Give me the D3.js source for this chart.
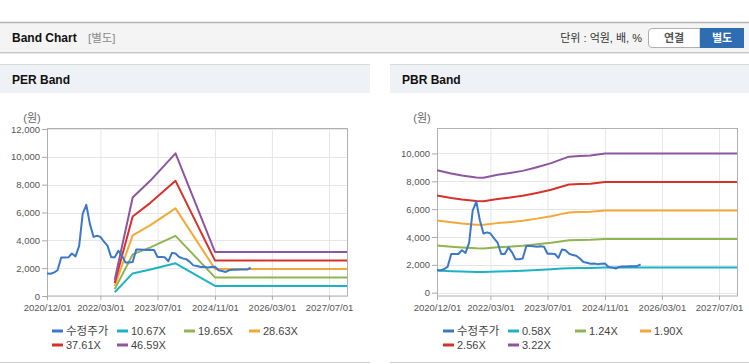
<!DOCTYPE html>
<html>
<head>
<meta charset="utf-8">
<script src="https://cdn.jsdelivr.net/npm/d3@7"></script>
<style>
  body { margin: 0; background: #fff; }
  svg { display: block; font-family: "Liberation Sans", Arial, "Noto Sans CJK KR", sans-serif; }
</style>
</head>
<body>
<script>
// monthly dates, price from 2020/12
var priceStart = "2020-12-01";
var price = [1620, 1600, 1700, 1850, 2770, 2770, 2780, 3050, 2850, 3600,
             5900, 6550, 5200, 4250, 4330, 4250, 3900, 3600, 2780, 2780,
             3250, 2900, 2400, 2400, 2450, 3350, 3350, 3330, 3300, 3330,
             3300, 2800, 2800, 2780, 2500, 3100, 3050, 2800, 2700, 2650,
             2450, 2200, 2150, 2080, 2100, 2050, 2080, 2100, 1850, 1800,
             1730, 1850, 1880, 1880, 1900, 1900, 1900, 2030];

// EPS / BPS at the band vertices
var epsDates = ["2022-07-01", "2022-12-01", "2023-05-01", "2023-12-01", "2024-11-01", "2027-12-01"];
var eps = [25, 152, 178, 220, 68, 68];
var perMult = [10.67, 19.65, 28.63, 37.61, 46.59];

var bpsDates = ["2020-12-01", "2021-04-01", "2021-07-01", "2021-11-01", "2022-01-01", "2022-05-01",
                "2022-08-01", "2022-12-01", "2023-04-01", "2023-08-01", "2023-11-01", "2024-01-01",
                "2024-04-01", "2024-07-01", "2024-11-01", "2027-12-01"];
var bps = [2730, 2660, 2615, 2572, 2565, 2630, 2665, 2718, 2800, 2890, 2980, 3035, 3048, 3060, 3106, 3106];
var pbrMult = [0.58, 1.24, 1.90, 2.56, 3.22];

var xTicks = ["2020-12-01", "2022-03-01", "2023-07-01", "2024-11-01", "2026-03-01", "2027-07-01"];
var perTicks = [0, 2000, 4000, 6000, 8000, 10000, 12000];
var pbrTicks = [0, 2000, 4000, 6000, 8000, 10000];

var colors = ["#3b78c7", "#1eb3c3", "#8fb552", "#f4a83a", "#d6322b", "#8e55a0"];

var parse = d3.timeParse("%Y-%m-%d");
var fmtTick = d3.timeFormat("%Y/%m/%d");

var svg = d3.select("body").append("svg")
    .attr("width", 749)
    .attr("height", 364);

// top header bar
svg.append("rect").attr("x", 0).attr("y", 22).attr("width", 749).attr("height", 30)
    .attr("fill", "#f4f4f4");
svg.append("line").attr("x1", 0).attr("x2", 749).attr("y1", 22.5).attr("y2", 22.5)
    .attr("stroke", "#b4b4b4").attr("stroke-width", 1.5);
svg.append("line").attr("x1", 0).attr("x2", 749).attr("y1", 52.5).attr("y2", 52.5)
    .attr("stroke", "#c8c8c8");
svg.append("line").attr("x1", 0).attr("x2", 749).attr("y1", 53.5).attr("y2", 53.5)
    .attr("stroke", "#e6e6e6");
svg.append("text").attr("x", 12).attr("y", 42).text("Band Chart")
    .attr("font-size", 12).attr("font-weight", "bold").attr("fill", "#111");
svg.append("text").attr("x", 88).attr("y", 42).text("[별도]")
    .attr("font-size", 11.5).attr("fill", "#8a8a8a");
svg.append("text").attr("x", 642).attr("y", 42).attr("text-anchor", "end").text("단위 : 억원, 배, %")
    .attr("font-size", 11).attr("fill", "#333");
svg.append("path")
    .attr("d", "M700,28.5 H652 Q648.5,28.5 648.5,32 V44 Q648.5,47.5 652,47.5 H700 Z")
    .attr("fill", "#fff").attr("stroke", "#b0b0b0");
svg.append("text").attr("x", 674).attr("y", 42).attr("text-anchor", "middle").text("연결")
    .attr("font-size", 11).attr("font-weight", "bold").attr("fill", "#555");
svg.append("rect").attr("x", 700).attr("y", 28).attr("width", 44).attr("height", 20)
    .attr("fill", "#2f6db3");
svg.append("text").attr("x", 722).attr("y", 42).attr("text-anchor", "middle").text("별도")
    .attr("font-size", 11).attr("font-weight", "bold").attr("fill", "#fff");

function panel(opt) {
  var g = svg.append("g");
  // title bar
  g.append("rect").attr("x", opt.px).attr("y", 64).attr("width", opt.pw).attr("height", 29)
      .attr("fill", "#eef2f7");
  g.append("line").attr("x1", opt.px).attr("x2", opt.px + opt.pw).attr("y1", 64.5).attr("y2", 64.5)
      .attr("stroke", "#d8d8d8");
  g.append("line").attr("x1", opt.px).attr("x2", opt.px + opt.pw).attr("y1", 362.5).attr("y2", 362.5)
      .attr("stroke", "#cfcfcf");
  g.append("text").attr("x", opt.px + 12).attr("y", 84).text(opt.title)
      .attr("font-size", 12).attr("font-weight", "bold").attr("fill", "#111");

  var x = d3.scaleTime()
      .domain([parse("2020-12-01"), parse("2027-12-01")])
      .range([opt.x0, opt.x1]);
  var y = d3.scaleLinear().domain(opt.yDomain).range([296, 129]);

  g.append("text").attr("x", opt.x0 - 15).attr("y", 122).attr("text-anchor", "middle")
      .text("(원)").attr("font-size", 11).attr("fill", "#666");

  // grid
  g.selectAll(".vg").data(xTicks).enter().append("line")
      .attr("x1", function(d){ return x(parse(d)) + 0.5; })
      .attr("x2", function(d){ return x(parse(d)) + 0.5; })
      .attr("y1", 129).attr("y2", 296).attr("stroke", "#e6e6e6");
  g.selectAll(".hg").data(opt.yTicks).enter().append("line")
      .attr("x1", opt.x0).attr("x2", opt.x1)
      .attr("y1", function(d){ return Math.round(y(d)) + 0.5; })
      .attr("y2", function(d){ return Math.round(y(d)) + 0.5; })
      .attr("stroke", "#e6e6e6");

  // axes
  var yAxis = d3.axisLeft(y).tickValues(opt.yTicks).tickSize(5).tickPadding(2)
      .tickFormat(d3.format(","));
  var ya = g.append("g").attr("transform", "translate(" + opt.x0 + ",0)").call(yAxis);
  var xAxis = d3.axisBottom(x).tickValues(xTicks.map(parse)).tickSize(4).tickPadding(4)
      .tickFormat(fmtTick);
  var xa = g.append("g").attr("transform", "translate(0,296)").call(xAxis);
  [ya, xa].forEach(function(a){
    a.select(".domain").remove();
    a.selectAll("line").attr("stroke", "#aaa");
    a.selectAll("text").attr("font-size", 9.5).attr("fill", "#555")
        .attr("font-family", "Liberation Sans, Arial, sans-serif");
  });
  g.append("rect").attr("x", opt.x0 + 0.5).attr("y", 128.5)
      .attr("width", opt.x1 - opt.x0).attr("height", 167.5)
      .attr("fill", "none").attr("stroke", "#b0b0b0");

  var line = d3.line()
      .x(function(d){ return x(d[0]); })
      .y(function(d){ return y(d[1]); });

  // bands
  opt.mult.forEach(function(m, i){
    var pts = opt.baseDates.map(function(d, j){ return [parse(d), opt.base[j] * m]; });
    g.append("path").datum(pts).attr("d", line)
        .attr("fill", "none").attr("stroke", colors[i + 1]).attr("stroke-width", 2)
        .attr("stroke-linejoin", "round");
  });

  // price
  var p0 = parse(priceStart);
  var ppts = price.map(function(v, i){ return [d3.timeMonth.offset(p0, i), v]; });
  g.append("path").datum(ppts).attr("d", line)
      .attr("fill", "none").attr("stroke", colors[0]).attr("stroke-width", 2)
      .attr("stroke-linejoin", "round");

  // legend
  var names = ["수정주가"].concat(opt.mult.map(function(m){ return m.toFixed(2) + "X"; }));
  var cols = [0, 65, 132, 197];
  names.forEach(function(n, i){
    var lx = opt.legX + cols[i % 4];
    var ly = i < 4 ? 331 : 345;
    g.append("line").attr("x1", lx).attr("x2", lx + 11).attr("y1", ly).attr("y2", ly)
        .attr("stroke", colors[i]).attr("stroke-width", 3);
    g.append("text").attr("x", lx + 14).attr("y", ly + 4).text(n)
        .attr("font-size", i === 0 ? 11.5 : 11).attr("fill", "#444");
  });
}

panel({ title: "PER Band", px: 0, pw: 370, x0: 47, x1: 347,
        yDomain: [0, 12000], yTicks: perTicks,
        baseDates: epsDates, base: eps, mult: perMult, legX: 52 });
panel({ title: "PBR Band", px: 390, pw: 359, x0: 437, x1: 737,
        yDomain: [-240, 11760], yTicks: pbrTicks,
        baseDates: bpsDates, base: bps, mult: pbrMult, legX: 443 });
</script>
</body>
</html>
